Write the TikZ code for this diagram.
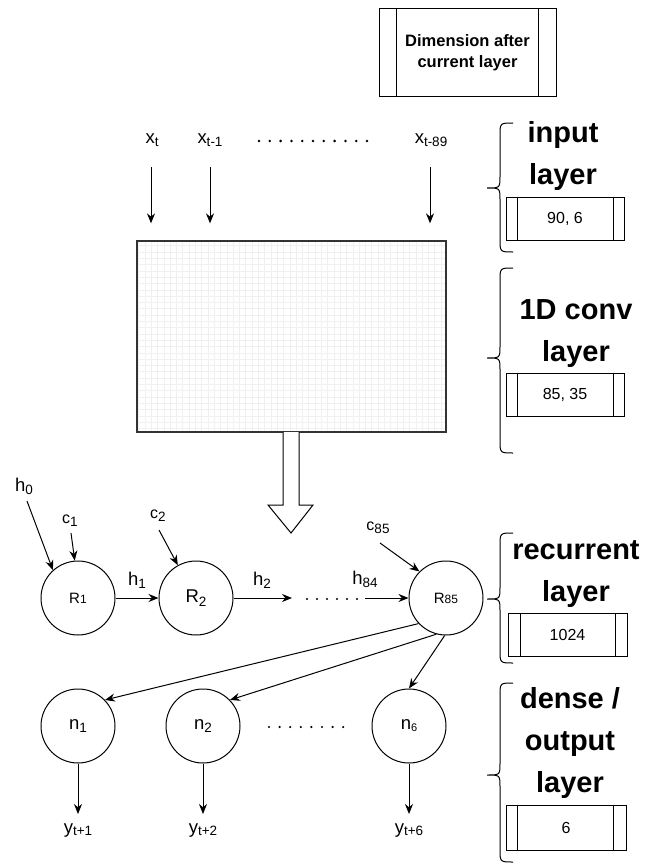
\documentclass[tikz,border=0pt]{standalone}
\usepackage{fontspec}
\setmainfont{Liberation Sans}
\usetikzlibrary{arrows.meta}
\newcommand\sbs[2][3]{\raisebox{-#1pt}{\fontsize{13.5}{13.5}\selectfont #2}}
\newcommand\sbi[1]{{\fontsize{12}{12}\selectfont #1}}
\begin{document}
\begin{tikzpicture}[x=1pt,y=-1pt,
  lbl/.style={font=\fontsize{18.5}{21}\selectfont, inner sep=0pt},
  slbl/.style={font=\fontsize{16}{18}\selectfont, inner sep=0pt},
  arr/.style={-{Stealth[length=10pt,width=8pt]}, line width=1pt},
  circ/.style={circle, draw, line width=1pt, minimum size=74pt, inner sep=0pt},
  big/.style={font=\fontsize{29}{42}\selectfont\bfseries, align=center, inner sep=0pt},
  dbox/.style={draw, line width=1pt, minimum width=118pt, minimum height=43pt, inner sep=0pt, font=\fontsize{16}{18}\selectfont},
  brc/.style={line width=1pt}
]
\useasboundingbox (0,0) rectangle (656,864);

% legend box
\node[draw, line width=1pt, minimum width=177pt, minimum height=88pt, inner sep=0pt,
  font=\fontsize{16.5}{21}\selectfont\bfseries, align=center] (dim) at (467.5,53) {Dimension after\\current layer};
\draw[line width=1pt] ([xshift=18pt]dim.north west) -- ([xshift=18pt]dim.south west);
\draw[line width=1pt] ([xshift=-18pt]dim.north east) -- ([xshift=-18pt]dim.south east);

% input labels
\node[lbl] (xt) at (152,140) {x\sbs{t}};
\node[lbl] (xt1) at (210,140) {x\sbs{t-1}};
\node[lbl] (xt89) at (431,140) {x\sbs{t-89}};
\foreach \i in {0,...,10} \fill (259+\i*10.8,141) circle (1.4pt);

% conv grid rectangle
\begin{scope}
\clip (137,241) rectangle (446,432);
\draw[black!6, line width=0.5pt, step=6.3pt] (130,230) grid (450,440);
\end{scope}
\node[draw=black!80, line width=1.3pt, minimum width=309pt, minimum height=191pt, inner sep=0pt] (conv) at (291.5,336.5) {};

\coordinate (xta) at (151,167);
\coordinate (xt1a) at (210,167);
\coordinate (xt89a) at (430,167);
\draw[arr, shorten >=17pt] (xta) -- (xta |- conv.north);
\draw[arr, shorten >=17pt] (xt1a) -- (xt1a |- conv.north);
\draw[arr, shorten >=17pt] (xt89a) -- (xt89a |- conv.north);

% hollow arrow
\draw[line width=1pt, fill=white, line join=miter] (283,432) -- (283,505) -- (268,505) -- (291,533) -- (313,505) -- (299,505) -- (299,432);

% recurrent layer
\node[circ, font=\fontsize{15}{15}\selectfont] (R1) at (78,598) {R\sbi{1}};
\node[circ, font=\fontsize{18.5}{18}\selectfont] (R2) at (196,598) {R\sbs[4]{2}};
\node[circ, font=\fontsize{15}{15}\selectfont] (R85) at (446,598) {R\sbi{85}};

\node[lbl] (h0) at (24,486) {h\sbs{0}};
\coordinate (h0s) at (27,501);
\draw[arr] (h0s) -- (R1.132);
\node[slbl] (c1) at (70,521) {c\sbs{1}};
\coordinate (c1s) at (71,533);
\draw[arr] (c1s) -- (R1.95);
\node[slbl] (c2) at (158,516) {c\sbs{2}};
\coordinate (c2s) at (159,530);
\draw[arr] (c2s) -- (R2.119);
\node[slbl] (c85) at (378,528) {c\sbs{85}};
\coordinate (c85s) at (380,543);
\draw[arr] (c85s) -- (R85.135);

\node[lbl] (h1) at (137,580) {h\sbs{1}};
\draw[arr] (R1.east) -- (R2.west);
\node[lbl] (h2) at (262,580) {h\sbs{2}};
\coordinate (h2e) at (292,598);
\draw[arr] (R2.east) -- (h2e);
\foreach \i in {0,...,5} \fill (307+\i*10,599) circle (1.2pt);
\node[lbl] (h84) at (365,579) {h\sbs{84}};
\coordinate (h84s) at (365,598);
\draw[arr] (h84s) -- (R85.west);

% dense layer
\node[circ, font=\fontsize{18.5}{18}\selectfont] (n1) at (78,726) {n\sbs{1}};
\node[circ, font=\fontsize{18.5}{18}\selectfont] (n2) at (203,726) {n\sbs{2}};
\node[circ, font=\fontsize{18.5}{18}\selectfont] (n6) at (409,726) {n\sbs[2]{\fontsize{11}{11}\selectfont 6}};
\foreach \i in {0,...,7} \fill (269+\i*10.6,727) circle (1.2pt);

\draw[arr] (R85.223) -- (n1.44);
\draw[arr] (R85.255) -- (n2.44);
\draw[arr] (R85.268) -- (n6.90);

\coordinate (y1e) at (78,814);
\coordinate (y2e) at (203,814);
\coordinate (y6e) at (409,814);
\draw[arr] (n1.south) -- (y1e);
\draw[arr] (n2.south) -- (y2e);
\draw[arr] (n6.south) -- (y6e);
\node[lbl] (y1) at (78,831) {y\sbs[2]{t+1}};
\node[lbl] (y2) at (203,831) {y\sbs[2]{t+2}};
\node[lbl] (y6) at (409,831) {y\sbs[2]{t+6}};

% braces
\draw[brc] (513,123) .. controls (500,123) .. (500,136) -- (500,176) .. controls (500,188) .. (487,188) .. controls (500,188) .. (500,200) -- (500,239) .. controls (500,252) .. (513,252);
\draw[brc] (513,268) .. controls (500,268) .. (500,281) -- (500,346) .. controls (500,358) .. (487,358) .. controls (500,358) .. (500,370) -- (500,440) .. controls (500,453) .. (513,453);
\draw[brc] (513,533) .. controls (500,533) .. (500,546) -- (500,587) .. controls (500,599) .. (487,599) .. controls (500,599) .. (500,611) -- (500,650) .. controls (500,663) .. (513,663);
\draw[brc] (513,683) .. controls (500,683) .. (500,696) -- (500,763) .. controls (500,775) .. (487,775) .. controls (500,775) .. (500,787) -- (500,849) .. controls (500,862) .. (513,862);

% layer labels
\node[big] (tin) at (563,156) {input\\layer};
\node[big] (tconv) at (576,334) {1D conv\\layer};
\node[big] (trec) at (576,574) {recurrent\\layer};
\node[big] (tden) at (570,743) {dense /\\output\\layer};

% dimension boxes
\node[dbox] (b1) at (565,218.5) {90, 6};
\node[dbox] (b2) at (565,394.5) {85, 35};
\node[dbox, minimum width=119pt] (b3) at (567.5,635) {1024};
\node[dbox, minimum width=120pt, minimum height=45pt] (b4) at (566,827.5) {6};
\foreach \b/\l/\r in {b1/12/11, b2/12/11, b3/13/12, b4/12/13}{
  \draw[line width=1pt] ([xshift=\l pt]\b.north west) -- ([xshift=\l pt]\b.south west);
  \draw[line width=1pt] ([xshift=-\r pt]\b.north east) -- ([xshift=-\r pt]\b.south east);
}
\end{tikzpicture}
\end{document}
